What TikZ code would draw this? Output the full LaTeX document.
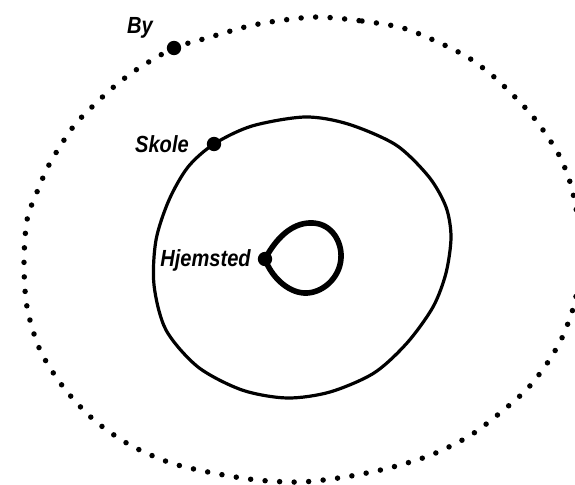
\documentclass[tikz,border=0pt]{standalone}
\usepackage{fontspec}
\setmainfont{Liberation Sans}[FakeStretch=0.86]
\begin{document}
\begin{tikzpicture}[x=0.75pt,y=-0.75pt,
  lbl/.style={font=\bfseries\itshape\fontsize{17.5}{20}\selectfont,inner sep=0pt,anchor=base east},
  bigdot/.style={circle,fill=black,inner sep=0pt,minimum size=10.8pt},
  dotline/.style={line width=4.1pt,line cap=round,dash pattern=on 0pt off 10.9pt},
  midline/.style={line width=2.4pt},
  innerline/.style={line width=4.2pt,line join=round}]
\useasboundingbox (0,0) rectangle (575,485);
% outer dotted boundary (By)
\draw[dotline] plot[smooth cycle] coordinates {
 (319,17) (362,21) (403,28) (440,43) (469,58) (493,76) (513,95) (530,113) (543,130)
 (559,155) (570,182) (577,215) (579,255) (577,290) (572,312) (561,340) (546,365)
 (528,388) (506,408) (471,435) (431,455) (389,468) (345,477) (301,482) (257,480)
 (213,473) (171,463) (130,445) (94,420) (64,388) (40,350) (27,307) (24,263) (27,220)
 (37,192) (50,163) (73,127) (94,105) (116,85) (139,68) (174,48) (207,38) (249,26) (284,20)};
% middle boundary (Skole)
\draw[midline] plot[smooth cycle] coordinates {
 (214,144) (252,126) (305,117) (348,124) (396,145) (429,177) (446,207) (451,237)
 (446,273) (433,307) (407,343) (374,373) (330,392) (287,398) (242,390) (198,367)
 (166,330) (154,285) (156,240) (169,200) (188,167)};
% inner loop (Hjemsted)
\coordinate (hj) at (265,259);
\draw[innerline] (hj) .. controls (279,233) and (296,222) .. (313,223)
  .. controls (332,224) and (342,242) .. (341,258)
  .. controls (340,278) and (322,294) .. (304,293)
  .. controls (287,292) and (271,276) .. (hj);
% dots
\node[bigdot] (bydot) at (174,48) {};
\node[bigdot] (skoledot) at (214,144) {};
\node[bigdot] (hjdot) at (hj) {};
% labels
\node[lbl] (by) at (153,34) {By};
\node[lbl] (skole) at (189,152) {Skole};
\node[lbl] (hjemsted) at (251,266) {Hjemsted};
\end{tikzpicture}
\end{document}
